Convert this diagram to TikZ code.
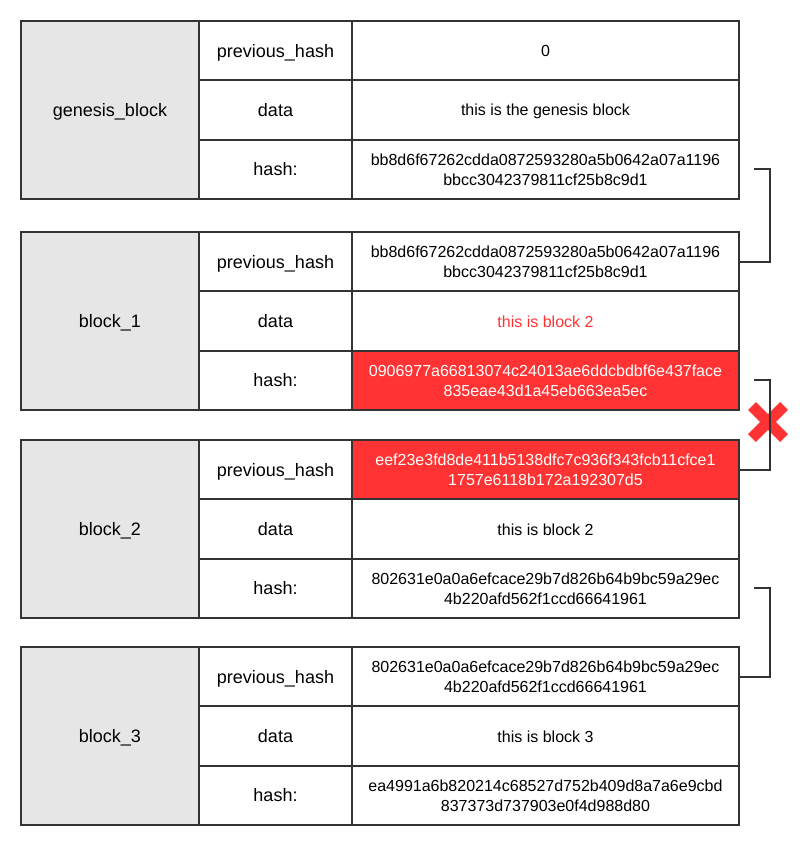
\documentclass[tikz,border=0pt]{standalone}
\usepackage{fontspec}
\setmainfont{Liberation Sans}
\definecolor{edge}{HTML}{333333}
\definecolor{grayfill}{HTML}{E6E6E6}
\definecolor{alert}{HTML}{FF3333}
\begin{document}
\begin{tikzpicture}[x=1pt,y=-1pt,
  cell/.style={draw=edge,line width=2pt,inner sep=0pt,anchor=north west,align=center},
  namecell/.style={cell,fill=grayfill,minimum width=178pt,minimum height=178pt,font=\fontsize{18}{22}\selectfont,text height=13pt,text depth=0pt},
  keycell/.style={cell,fill=white,minimum width=153pt,minimum height=59.33pt,font=\fontsize{18}{22}\selectfont,text height=13pt,text depth=0pt},
  valcell/.style={cell,fill=white,minimum width=387pt,minimum height=59.33pt,font=\fontsize{16}{20}\selectfont},
  onevalcell/.style={valcell,text height=12pt,text depth=0pt},
  badcell/.style={valcell,fill=alert,text=white},
  link/.style={draw=edge,line width=2pt},
  cross/.style={draw=alert,line width=11pt,line cap=butt}]
\useasboundingbox (0,0) rectangle (810,844);

% genesis block
\node[namecell] (g) at (20,20) {genesis\_block};
\node[keycell] (gk1) at (198,20) {previous\_hash};
\node[keycell] (gk2) at (198,79.33) {data};
\node[keycell] (gk3) at (198,138.67) {hash:};
\node[onevalcell] (gv1) at (351,20) {0};
\node[onevalcell] (gv2) at (351,79.33) {this is the genesis block};
\node[valcell] (gv3) at (351,138.67) {bb8d6f67262cdda0872593280a5b0642a07a1196\\bbcc3042379811cf25b8c9d1};

% block 1
\node[namecell] (a) at (20,231) {block\_1};
\node[keycell] (ak1) at (198,231) {previous\_hash};
\node[keycell] (ak2) at (198,290.33) {data};
\node[keycell] (ak3) at (198,349.67) {hash:};
\node[valcell] (av1) at (351,231) {bb8d6f67262cdda0872593280a5b0642a07a1196\\bbcc3042379811cf25b8c9d1};
\node[onevalcell,text=alert] (av2) at (351,290.33) {this is block 2};
\node[badcell] (av3) at (351,349.67) {0906977a66813074c24013ae6ddcbdbf6e437face\\835eae43d1a45eb663ea5ec};

% block 2
\node[namecell] (b) at (20,439) {block\_2};
\node[keycell] (bk1) at (198,439) {previous\_hash};
\node[keycell] (bk2) at (198,498.33) {data};
\node[keycell] (bk3) at (198,557.67) {hash:};
\node[badcell] (bv1) at (351,439) {eef23e3fd8de411b5138dfc7c936f343fcb11cfce1\\1757e6118b172a192307d5};
\node[onevalcell] (bv2) at (351,498.33) {this is block 2};
\node[valcell] (bv3) at (351,557.67) {802631e0a0a6efcace29b7d826b64b9bc59a29ec\\4b220afd562f1ccd66641961};

% block 3
\node[namecell] (c) at (20,646) {block\_3};
\node[keycell] (ck1) at (198,646) {previous\_hash};
\node[keycell] (ck2) at (198,705.33) {data};
\node[keycell] (ck3) at (198,764.67) {hash:};
\node[valcell] (cv1) at (351,646) {802631e0a0a6efcace29b7d826b64b9bc59a29ec\\4b220afd562f1ccd66641961};
\node[onevalcell] (cv2) at (351,705.33) {this is block 3};
\node[valcell] (cv3) at (351,764.67) {ea4991a6b820214c68527d752b409d8a7a6e9cbd\\837373d737903e0f4d988d80};

% broken-link cross
\coordinate (x) at (768,422);
\draw[cross] ([shift={(-16,-16)}]x) -- ([shift={(16,16)}]x);
\draw[cross] ([shift={(-16,16)}]x) -- ([shift={(16,-16)}]x);

% links
\coordinate (s1) at ([xshift=14pt]gv3.east);
\draw[link] (s1) -- ++(16,0) |- (av1.east);
\coordinate (s2) at ([xshift=14pt]av3.east);
\draw[link] (s2) -- ++(16,0) |- (bv1.east);
\coordinate (s3) at ([xshift=14pt]bv3.east);
\draw[link] (s3) -- ++(16,0) |- (cv1.east);
\end{tikzpicture}
\end{document}
